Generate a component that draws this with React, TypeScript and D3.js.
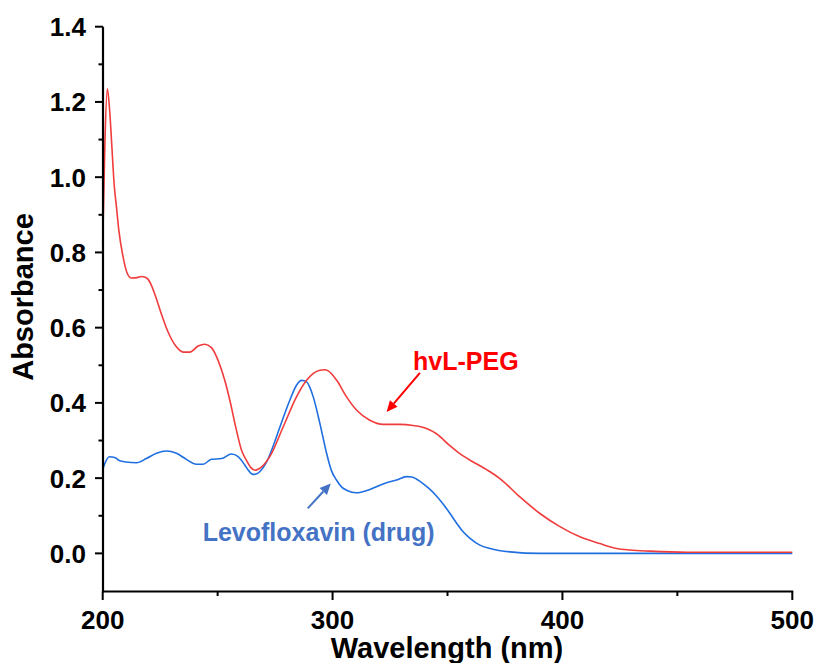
import React from "react";
import * as d3 from "d3";

const redWavelength = [200, 201, 202, 203, 204, 205, 206, 207, 208.8, 210.7, 212.5, 215, 216.8, 218.5, 219.7, 221, 222.6, 225.5, 228.4, 231.8, 235, 237.9, 241.5, 244.4, 247.3, 250.2, 253.1, 255.3, 258.2, 260.4, 262.5, 264.5, 266.2, 268, 270, 272.7, 278.5, 284.3, 288.7, 291.5, 294.5, 296.5, 298.1, 301.8, 306.1, 310.4, 316.2, 322, 329.3, 335, 340.9, 345.2, 351.1, 355.4, 360, 364.1, 368.5, 372.8, 381.5, 390.2, 398.9, 407.6, 416.3, 423.6, 429.3, 438, 454, 500];
const redAbsorbance = [0.824, 1.1, 1.235, 1.18, 1.08, 0.98, 0.92, 0.86, 0.79, 0.744, 0.732, 0.733, 0.736, 0.734, 0.729, 0.715, 0.69, 0.637, 0.589, 0.551, 0.535, 0.535, 0.551, 0.556, 0.547, 0.513, 0.46, 0.407, 0.327, 0.274, 0.248, 0.228, 0.221, 0.225, 0.235, 0.257, 0.336, 0.416, 0.46, 0.478, 0.487, 0.488, 0.485, 0.46, 0.416, 0.381, 0.354, 0.343, 0.343, 0.34, 0.332, 0.318, 0.286, 0.265, 0.247, 0.233, 0.217, 0.199, 0.15, 0.106, 0.071, 0.044, 0.026, 0.013, 0.009, 0.006, 0.003, 0.003];

const blueWavelength = [200, 201, 202.9, 205.2, 207.4, 210, 214.7, 219, 223.4, 227.7, 232.1, 236.4, 240.8, 243.7, 247.3, 251.7, 256, 258.9, 261.8, 263.5, 265.4, 266.8, 268.3, 271.3, 275.6, 277.1, 281.4, 284.3, 286.5, 288.7, 290.2, 291.6, 294.5, 297.4, 299.5, 301.7, 304, 306.1, 310.4, 316.2, 323.5, 327.9, 332.2, 334.5, 336.6, 339.5, 342.4, 345, 348.5, 351.1, 354, 357, 359.8, 364.1, 368.5, 377.2, 390, 500];
const blueAbsorbance = [0.223, 0.24, 0.257, 0.255, 0.246, 0.243, 0.241, 0.252, 0.266, 0.272, 0.266, 0.25, 0.237, 0.237, 0.25, 0.252, 0.264, 0.257, 0.235, 0.22, 0.21, 0.211, 0.217, 0.243, 0.31, 0.336, 0.407, 0.447, 0.46, 0.456, 0.44, 0.416, 0.345, 0.266, 0.22, 0.195, 0.176, 0.168, 0.161, 0.17, 0.188, 0.195, 0.204, 0.203, 0.197, 0.185, 0.17, 0.154, 0.128, 0.106, 0.08, 0.056, 0.04, 0.022, 0.013, 0.004, 0.0, 0.0];

const xMajorTicks = [200, 300, 400, 500];
const xMinorTicks = [250, 350, 450];
const yMajorTicks = [0, 0.2, 0.4, 0.6, 0.8, 1.0, 1.2, 1.4];
const yMinorTicks = [0.1, 0.3, 0.5, 0.7, 0.9, 1.1, 1.3];

const redLabel = "hvL-PEG";
const blueLabel = "Levofloxavin (drug)";
const redLabelPos = [335.0, 0.4886];
const redArrow = [[338.0, 0.4796], [323.5, 0.376]];
const blueLabelPos = [243.5, 0.0335];
const blueArrow = [[289.2, 0.1195], [299.2, 0.186]];

const W = 817;
const H = 663;
const FONT = "'Liberation Sans', Arial, sans-serif";

function Arrow({ x1, y1, x2, y2, color }: { x1: number; y1: number; x2: number; y2: number; color: string }) {
  const ang = Math.atan2(y2 - y1, x2 - x1);
  const len = 11;
  const half = 5;
  const bx = x2 - len * Math.cos(ang);
  const by = y2 - len * Math.sin(ang);
  const px = -Math.sin(ang) * half;
  const py = Math.cos(ang) * half;
  return (
    <g>
      <line x1={x1} y1={y1} x2={bx} y2={by} stroke={color} strokeWidth={2} />
      <polygon points={`${x2},${y2} ${bx + px},${by + py} ${bx - px},${by - py}`} fill={color} />
    </g>
  );
}

export default function App() {
  const x = d3.scaleLinear().domain([200, 500]).range([102.7, 792.3]);
  const y = d3.scaleLinear().domain([-0.1, 1.4]).range([591, 26.7]);
  const line = d3
    .line<[number, number]>()
    .x((d) => x(d[0]))
    .y((d) => y(d[1]))
    .curve(d3.curveMonotoneX);
  const red = redWavelength.map((w, i) => [w, redAbsorbance[i]] as [number, number]);
  const blue = blueWavelength.map((w, i) => [w, blueAbsorbance[i]] as [number, number]);
  const axisY = 591.5;
  const axisX = 103;

  return (
    <svg width={W} height={H} style={{ position: "absolute", left: 0, top: 0, background: "#fff" }} fontFamily={FONT}>
      <path d={line(blue) || ""} fill="none" stroke="#1f6fe0" strokeWidth={1.6} />
      <path d={line(red) || ""} fill="none" stroke="#f03c3c" strokeWidth={1.6} />

      {/* axes */}
      <line x1={axisX} y1={y(1.4)} x2={axisX} y2={axisY + 1} stroke="#000" strokeWidth={2.2} />
      <line x1={axisX - 1} y1={axisY} x2={x(500) + 1} y2={axisY} stroke="#000" strokeWidth={2.2} />
      {yMajorTicks.map((t) => (
        <g key={"ym" + t}>
          <line x1={axisX - 8} x2={axisX} y1={y(t)} y2={y(t)} stroke="#000" strokeWidth={2} />
          <text x={86} y={y(t)} dy="0.36em" textAnchor="end" fontSize={26} fontWeight="bold">
            {t.toFixed(1)}
          </text>
        </g>
      ))}
      {yMinorTicks.map((t) => (
        <line key={"yn" + t} x1={axisX - 4.5} x2={axisX} y1={y(t)} y2={y(t)} stroke="#000" strokeWidth={2} />
      ))}
      {xMajorTicks.map((t) => (
        <g key={"xm" + t}>
          <line x1={x(t)} x2={x(t)} y1={axisY} y2={axisY + 8.5} stroke="#000" strokeWidth={2} />
          <text x={x(t)} y={629.3} textAnchor="middle" fontSize={26} fontWeight="bold">
            {t}
          </text>
        </g>
      ))}
      {xMinorTicks.map((t) => (
        <line key={"xn" + t} x1={x(t)} x2={x(t)} y1={axisY} y2={axisY + 4.5} stroke="#000" strokeWidth={2} />
      ))}

      <text x={447} y={657.5} textAnchor="middle" fontSize={29} fontWeight="bold">
        Wavelength (nm)
      </text>
      <text
        transform={`translate(33,297) rotate(-90)`}
        textAnchor="middle"
        fontSize={29}
        fontWeight="bold"
      >
        Absorbance
      </text>

      {/* annotations */}
      <text x={x(redLabelPos[0])} y={y(redLabelPos[1])} fontSize={25} fontWeight="bold" fill="#ff0000">
        {redLabel}
      </text>
      <Arrow
        x1={x(redArrow[0][0])}
        y1={y(redArrow[0][1])}
        x2={x(redArrow[1][0])}
        y2={y(redArrow[1][1])}
        color="#ff0000"
      />
      <text x={x(blueLabelPos[0])} y={y(blueLabelPos[1])} fontSize={25} fontWeight="bold" fill="#4472c4">
        {blueLabel}
      </text>
      <Arrow
        x1={x(blueArrow[0][0])}
        y1={y(blueArrow[0][1])}
        x2={x(blueArrow[1][0])}
        y2={y(blueArrow[1][1])}
        color="#4472c4"
      />
    </svg>
  );
}
